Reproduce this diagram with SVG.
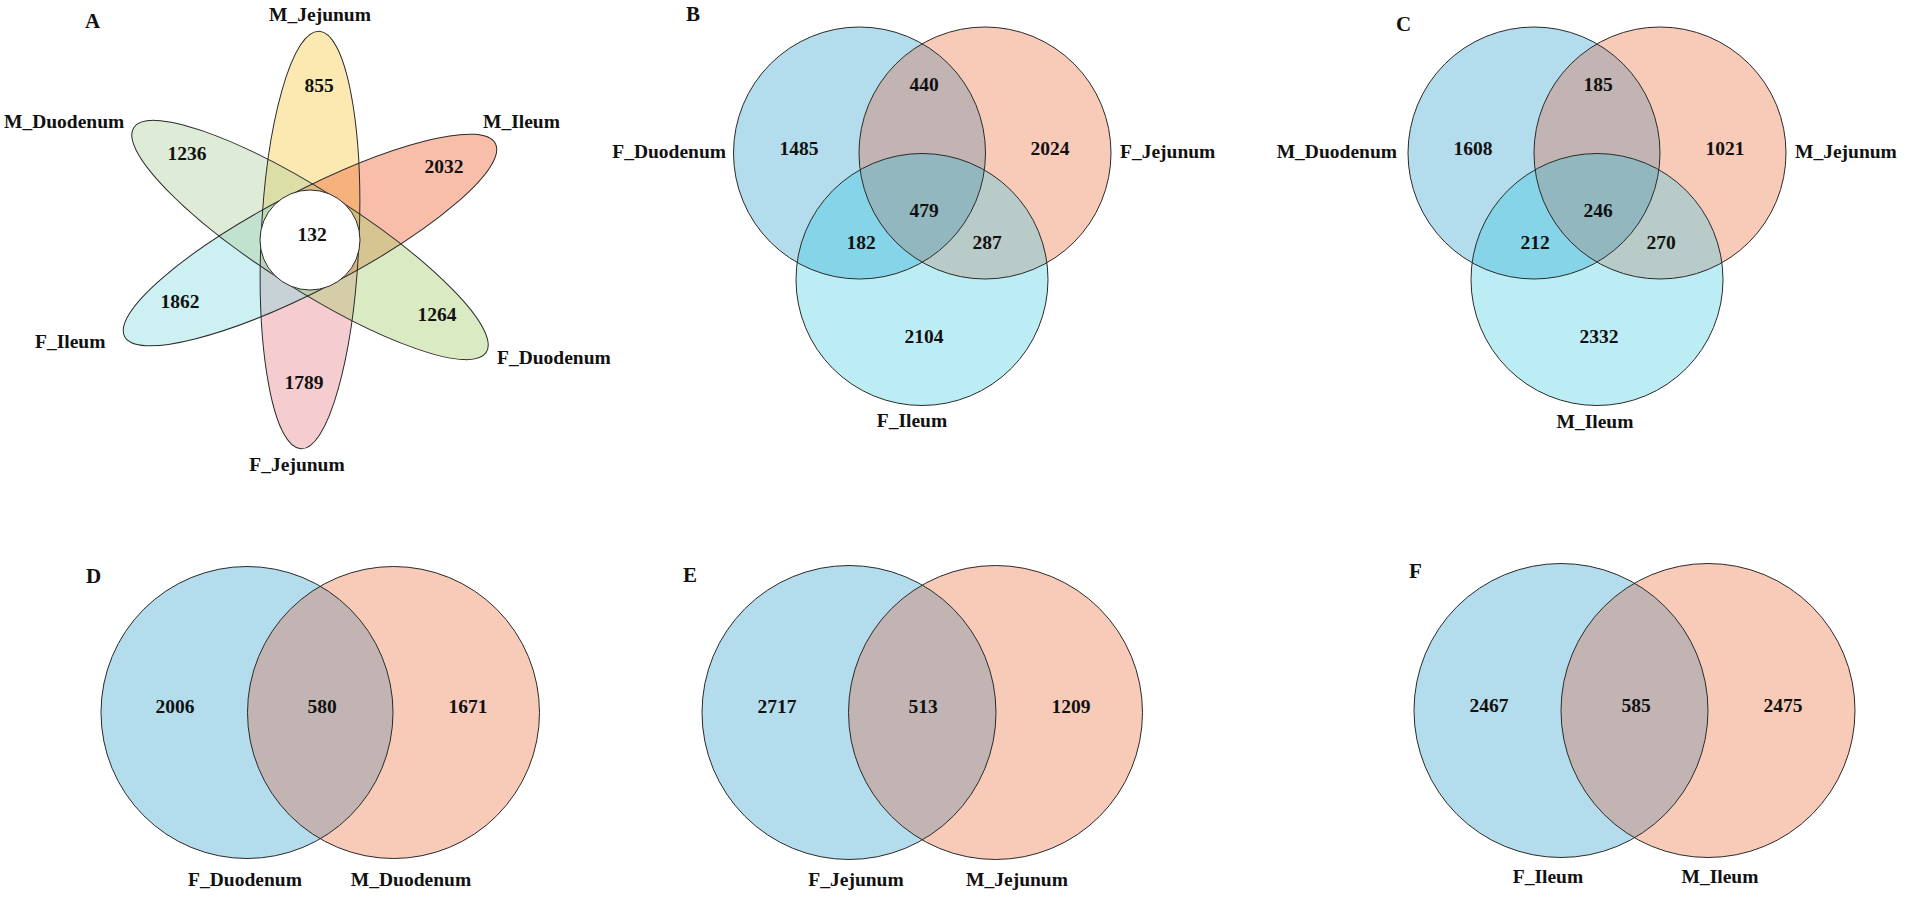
<svg xmlns="http://www.w3.org/2000/svg" width="1907" height="897" viewBox="0 0 1907 897">
<style>
text{font-family:"Liberation Serif","Times New Roman",serif;font-weight:bold;font-size:19.5px;fill:#111}
.pl{font-size:21px}
.m{text-anchor:middle}
.e{text-anchor:end}
.half{fill-opacity:0.4;stroke:none}
.ol{fill:none;stroke:#2a2a2a;stroke-width:1}
.blue{fill:#B3DDEC}
.sal{fill:#F8CBB9}
.cyan{fill:#BDEDF4}
.bs{fill:#C2B4B2}
.bc{fill:#85D4E7}
.sc{fill:#B9CBC8}
.all{fill:#93B7BE}
</style>
<defs>
<path id="hR" d="M0,-49 A209,49 0 0 1 0,49 Z"/>
<path id="hL" d="M0,49 A209,49 0 0 1 0,-49 Z"/>
<clipPath id="cBL"><circle cx="859.5" cy="153" r="126"/></clipPath>
<clipPath id="cBR"><circle cx="985" cy="153" r="126"/></clipPath>
<clipPath id="cCL"><circle cx="1534" cy="153" r="126"/></clipPath>
<clipPath id="cCR"><circle cx="1660" cy="153" r="126"/></clipPath>
<clipPath id="cDL"><circle cx="247" cy="712.5" r="146"/></clipPath>
<clipPath id="cEL"><circle cx="849" cy="712.5" r="147"/></clipPath>
<clipPath id="cFL"><circle cx="1561" cy="710.5" r="147"/></clipPath>
</defs>
<rect width="1907" height="897" fill="#fff"/>

<!-- Panel A -->
<g id="panelA">
<text class="pl" x="85" y="28">A</text>
<g transform="translate(310,240)">
<g id="A_M_Jejunum"><use href="#hR" class="half" transform="rotate(-87.5)" fill="#F7C83E"/></g>
<g id="A_F_Jejunum"><use href="#hL" class="half" transform="rotate(-87.5)" fill="#E68289"/></g>
<g id="A_M_Ileum"><use href="#hR" class="half" transform="rotate(-27.5)" fill="#F05C2A"/></g>
<g id="A_F_Ileum"><use href="#hL" class="half" transform="rotate(-27.5)" fill="#82D9DE"/></g>
<g id="A_F_Duodenum"><use href="#hR" class="half" transform="rotate(32.5)" fill="#A2CD6B"/></g>
<g id="A_M_Duodenum"><use href="#hL" class="half" transform="rotate(32.5)" fill="#ACCD98"/></g>
<ellipse class="ol" transform="rotate(-87.5)" rx="209" ry="49"/>
<ellipse class="ol" transform="rotate(-27.5)" rx="209" ry="49"/>
<ellipse class="ol" transform="rotate(32.5)" rx="209" ry="49"/>
<g id="A_core"><circle cx="0" cy="0" r="50" fill="#fff" stroke="#2a2a2a" stroke-width="1"/></g>
</g>
<text class="m" x="320" y="21">M_Jejunum</text>
<text x="4" y="128">M_Duodenum</text>
<text x="483" y="128">M_Ileum</text>
<text x="35" y="348">F_Ileum</text>
<text x="497" y="364">F_Duodenum</text>
<text class="m" x="297" y="471">F_Jejunum</text>
<text class="m" x="319" y="92">855</text>
<text class="m" x="187" y="160">1236</text>
<text class="m" x="444" y="173">2032</text>
<text class="m" x="312" y="241">132</text>
<text class="m" x="180" y="308">1862</text>
<text class="m" x="437" y="321">1264</text>
<text class="m" x="304" y="389">1789</text>
</g>

<!-- Panel B -->
<g id="panelB">
<text class="pl" x="686" y="21">B</text>
<g id="B_F_Duodenum"><circle class="blue" cx="859.5" cy="153" r="126"/></g>
<g id="B_F_Jejunum"><circle class="sal" cx="985" cy="153" r="126"/></g>
<g id="B_F_Ileum"><circle class="cyan" cx="922" cy="279.5" r="126"/></g>
<circle class="bs" cx="985" cy="153" r="126" clip-path="url(#cBL)"/>
<circle class="bc" cx="922" cy="279.5" r="126" clip-path="url(#cBL)"/>
<circle class="sc" cx="922" cy="279.5" r="126" clip-path="url(#cBR)"/>
<g clip-path="url(#cBR)"><circle class="all" cx="922" cy="279.5" r="126" clip-path="url(#cBL)"/></g>
<circle class="ol" cx="859.5" cy="153" r="126"/>
<circle class="ol" cx="985" cy="153" r="126"/>
<circle class="ol" cx="922" cy="279.5" r="126"/>
<text class="e" x="726" y="158">F_Duodenum</text>
<text x="1120" y="158">F_Jejunum</text>
<text class="m" x="912" y="427">F_Ileum</text>
<text class="m" x="799" y="155">1485</text>
<text class="m" x="924" y="91">440</text>
<text class="m" x="1050" y="155">2024</text>
<text class="m" x="924" y="217">479</text>
<text class="m" x="861" y="249">182</text>
<text class="m" x="987" y="249">287</text>
<text class="m" x="924" y="343">2104</text>
</g>

<!-- Panel C -->
<g id="panelC">
<text class="pl" x="1396" y="31">C</text>
<g id="C_M_Duodenum"><circle class="blue" cx="1534" cy="153" r="126"/></g>
<g id="C_M_Jejunum"><circle class="sal" cx="1660" cy="153" r="126"/></g>
<g id="C_M_Ileum"><circle class="cyan" cx="1597" cy="279.5" r="126"/></g>
<circle class="bs" cx="1660" cy="153" r="126" clip-path="url(#cCL)"/>
<circle class="bc" cx="1597" cy="279.5" r="126" clip-path="url(#cCL)"/>
<circle class="sc" cx="1597" cy="279.5" r="126" clip-path="url(#cCR)"/>
<g clip-path="url(#cCR)"><circle class="all" cx="1597" cy="279.5" r="126" clip-path="url(#cCL)"/></g>
<circle class="ol" cx="1534" cy="153" r="126"/>
<circle class="ol" cx="1660" cy="153" r="126"/>
<circle class="ol" cx="1597" cy="279.5" r="126"/>
<text class="e" x="1397" y="158">M_Duodenum</text>
<text x="1795" y="158">M_Jejunum</text>
<text class="m" x="1595" y="428">M_Ileum</text>
<text class="m" x="1473" y="155">1608</text>
<text class="m" x="1598" y="91">185</text>
<text class="m" x="1725" y="155">1021</text>
<text class="m" x="1598" y="217">246</text>
<text class="m" x="1535" y="249">212</text>
<text class="m" x="1661" y="249">270</text>
<text class="m" x="1599" y="343">2332</text>
</g>

<!-- Panel D -->
<g id="panelD">
<text class="pl" x="86" y="583">D</text>
<g id="D_F_Duodenum"><circle class="blue" cx="247" cy="712.5" r="146"/></g>
<g id="D_M_Duodenum"><circle class="sal" cx="393.5" cy="712.5" r="146"/></g>
<circle class="bs" cx="393.5" cy="712.5" r="146" clip-path="url(#cDL)"/>
<circle class="ol" cx="247" cy="712.5" r="146"/>
<circle class="ol" cx="393.5" cy="712.5" r="146"/>
<text class="m" x="245" y="886">F_Duodenum</text>
<text class="m" x="411" y="886">M_Duodenum</text>
<text class="m" x="175" y="713">2006</text>
<text class="m" x="322" y="713">580</text>
<text class="m" x="468" y="713">1671</text>
</g>

<!-- Panel E -->
<g id="panelE">
<text class="pl" x="683" y="582">E</text>
<g id="E_F_Jejunum"><circle class="blue" cx="849" cy="712.5" r="147"/></g>
<g id="E_M_Jejunum"><circle class="sal" cx="995.5" cy="712.5" r="147"/></g>
<circle class="bs" cx="995.5" cy="712.5" r="147" clip-path="url(#cEL)"/>
<circle class="ol" cx="849" cy="712.5" r="147"/>
<circle class="ol" cx="995.5" cy="712.5" r="147"/>
<text class="m" x="856" y="886">F_Jejunum</text>
<text class="m" x="1017" y="886">M_Jejunum</text>
<text class="m" x="777" y="713">2717</text>
<text class="m" x="923" y="713">513</text>
<text class="m" x="1071" y="713">1209</text>
</g>

<!-- Panel F -->
<g id="panelF">
<text class="pl" x="1409" y="578">F</text>
<g id="F_F_Ileum"><circle class="blue" cx="1561" cy="710.5" r="147"/></g>
<g id="F_M_Ileum"><circle class="sal" cx="1708" cy="710.5" r="147"/></g>
<circle class="bs" cx="1708" cy="710.5" r="147" clip-path="url(#cFL)"/>
<circle class="ol" cx="1561" cy="710.5" r="147"/>
<circle class="ol" cx="1708" cy="710.5" r="147"/>
<text class="m" x="1548" y="883">F_Ileum</text>
<text class="m" x="1720" y="883">M_Ileum</text>
<text class="m" x="1489" y="712">2467</text>
<text class="m" x="1636" y="712">585</text>
<text class="m" x="1783" y="712">2475</text>
</g>
<g id="connectors"/>
</svg>
